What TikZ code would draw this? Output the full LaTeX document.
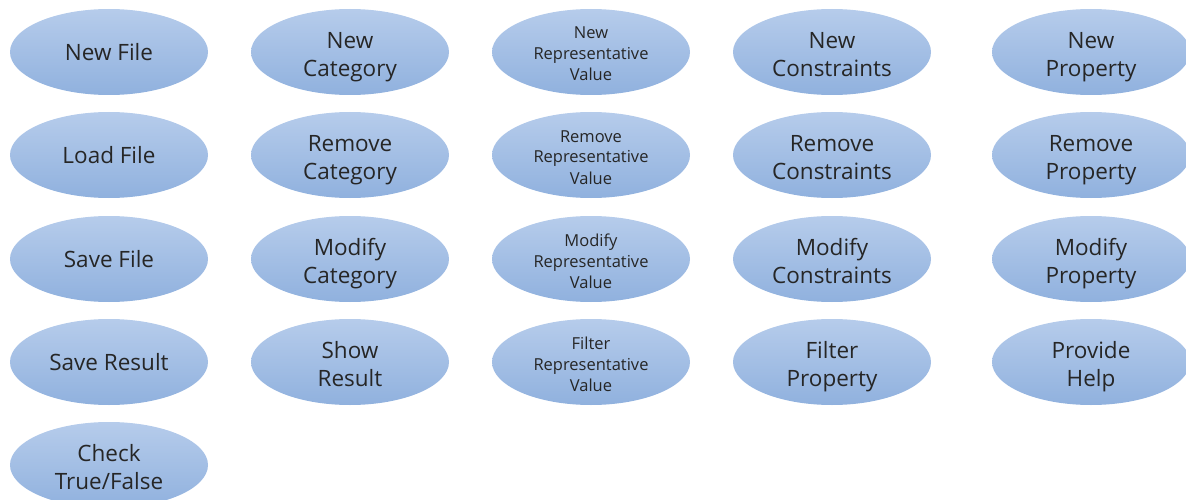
\documentclass[tikz,border=0pt]{standalone}
\usepackage{fontspec}
\setmainfont{Open Sans}
\usetikzlibrary{shapes.geometric}

\tikzset{
  usecase/.style={ellipse, minimum width=198pt, minimum height=86pt, inner sep=0pt,
        top color=usetop, bottom color=usebot, draw=none, align=center,
        text=black!85, font=\fontsize{22.5}{28}\selectfont},
  usetwo/.style={usecase, text height=49pt, text depth=0pt},
  usesmall/.style={usecase, text height=58pt, text depth=0pt, font=\fontsize{16.5}{21}\selectfont}
}
\definecolor{usetop}{HTML}{B6CCEB}
\definecolor{usebot}{HTML}{90B1DE}

\begin{document}
\begin{tikzpicture}[x=1pt, y=-1pt]
\useasboundingbox (0,0) rectangle (1186,500);

% file column
\node[usecase] (newfile)   at (109,52)  {New File};
\node[usecase] (loadfile)  at (109,155) {Load File};
\node[usecase] (savefile)  at (109,259) {Save File};
\node[usecase] (saveres)   at (109,362) {Save Result};
\node[usetwo]  (checktf)   at (109,465) {Check\\True/False};

% category column
\node[usetwo] (newcat)     at (350,52)  {New\\Category};
\node[usetwo] (remcat)     at (350,155) {Remove\\Category};
\node[usetwo] (modcat)     at (350,259) {Modify\\Category};
\node[usetwo] (showres)    at (350,362) {Show\\Result};

% representative value column
\node[usesmall] (newrep)   at (591,52)  {New\\Representative\\Value};
\node[usesmall] (remrep)   at (591,155) {Remove\\Representative\\Value};
\node[usesmall] (modrep)   at (591,259) {Modify\\Representative\\Value};
\node[usesmall] (filtrep)  at (591,362) {Filter\\Representative\\Value};

% constraints column
\node[usetwo] (newcons)    at (832,52)  {New\\Constraints};
\node[usetwo] (remcons)    at (832,155) {Remove\\Constraints};
\node[usetwo] (modcons)    at (832,259) {Modify\\Constraints};
\node[usetwo] (filtprop)   at (832,362) {Filter\\Property};

% property column
\node[usetwo] (newprop)    at (1091,52)  {New\\Property};
\node[usetwo] (remprop)    at (1091,155) {Remove\\Property};
\node[usetwo] (modprop)    at (1091,259) {Modify\\Property};
\node[usetwo] (help)       at (1091,362) {Provide\\Help};
\end{tikzpicture}
\end{document}
